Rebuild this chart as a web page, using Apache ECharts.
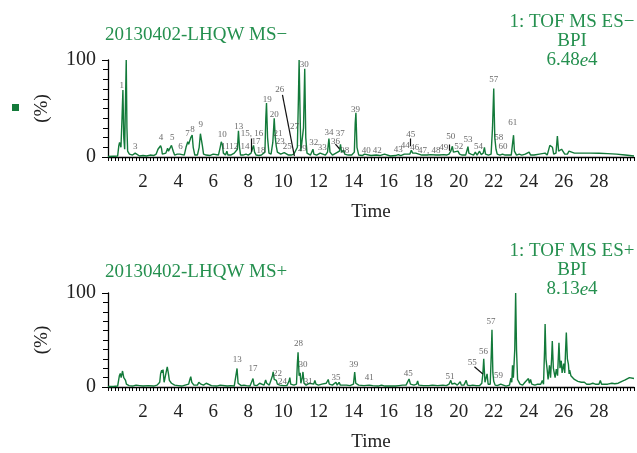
<!DOCTYPE html>
<html>
<head>
<meta charset="utf-8">
<script src="https://cdn.jsdelivr.net/npm/echarts/dist/echarts.min.js"></script>
<style>html,body{margin:0;padding:0;background:#fff}#chart{width:637px;height:453px}</style>
</head>
<body>
<div id="chart"></div>
<script>
// MS- base peak chromatogram, [time (min), relative intensity %]
var msNeg = [[0,0.5],[0.3,0.8],[0.55,1],[0.62,12],[0.66,15],[0.7,17],[0.74,10],[0.8,40],[0.85,69],[0.9,20],[0.95,8],[1.0,60],[1.04,100],[1.08,30],[1.12,6],[1.17,8],[1.22,3],[1.3,2],[1.4,2],[1.5,3],[1.55,4],[1.6,2],[1.8,1],[2.0,1.5],[2.2,1],[2.4,2],[2.6,1.5],[2.75,3],[2.85,8],[2.9,9],[2.95,7],[3.0,11.6],[3.05,9],[3.1,3],[3.3,4],[3.4,9],[3.45,6],[3.55,8],[3.62,12],[3.66,14],[3.72,6],[3.8,2],[3.95,3],[4.1,3],[4.2,2],[4.35,2],[4.45,10],[4.55,15.7],[4.6,13],[4.65,14],[4.72,20],[4.8,22.6],[4.86,10],[4.95,2],[5.1,2],[5.2,10],[5.27,24],[5.32,26],[5.38,12],[5.45,3],[5.6,2],[5.8,1.5],[6.0,3],[6.1,1.5],[6.3,2],[6.4,10],[6.46,15.7],[6.52,13],[6.58,4],[6.7,2],[6.78,6],[6.84,2],[7.0,2],[7.1,3],[7.2,4],[7.28,2],[7.38,8],[7.44,27],[7.5,10],[7.56,2],[7.7,2],[7.87,3],[8.0,2],[8.16,4],[8.22,2],[8.3,12],[8.36,5],[8.45,2],[8.6,1.5],[8.75,2],[8.85,1],[8.95,5],[9.0,40],[9.04,55.7],[9.1,20],[9.18,4],[9.3,3],[9.4,15],[9.48,40],[9.54,20],[9.6,11],[9.66,5],[9.77,5],[9.85,3],[9.95,4],[10.05,4.5],[10.15,3],[10.3,2],[10.45,2],[10.6,3],[10.7,2],[10.8,10],[10.86,60],[10.9,100],[10.96,40],[11.0,6],[11.05,6],[11.1,4],[11.15,30],[11.22,91],[11.28,20],[11.35,4],[11.45,3],[11.55,2],[11.65,4],[11.69,8],[11.74,3],[11.9,2],[12.0,3],[12.1,4],[12.18,5],[12.25,3],[12.4,2],[12.52,5],[12.6,19],[12.66,5],[12.8,2],[12.9,3],[13.0,4],[13.08,3],[13.2,6],[13.26,13],[13.32,5],[13.45,7],[13.5,3],[13.7,2],[13.9,2],[14.05,5],[14.1,35],[14.14,45.5],[14.2,10],[14.3,2],[14.5,1.5],[14.63,3],[14.7,2],[15.0,1.5],[15.3,2],[15.5,1.5],[15.77,3],[15.85,1.5],[16.1,1],[16.4,1.5],[16.56,2.5],[16.7,1.5],[16.9,3],[17.0,5],[17.1,3],[17.22,3],[17.3,7],[17.38,4],[17.55,4],[17.65,2],[17.9,2],[18.0,3],[18.2,2],[18.4,2.5],[18.7,2],[18.9,2],[19.15,2.5],[19.3,2],[19.45,3],[19.55,6],[19.64,11],[19.7,5],[19.8,3],[19.96,6],[20.05,3],[20.2,2],[20.3,4],[20.4,2],[20.48,4],[20.53,10.6],[20.58,4],[20.7,3],[20.85,2],[20.95,5],[21.05,2],[21.19,6],[21.28,2.5],[21.4,4],[21.47,10],[21.53,3],[21.7,2],[21.85,3],[21.93,30],[22.0,70.5],[22.06,20],[22.13,8],[22.2,3],[22.35,2],[22.5,3],[22.65,2],[22.8,2],[23.0,2],[23.08,15],[23.13,22.5],[23.18,6],[23.3,2],[23.45,3],[23.6,2],[23.8,3],[24.02,5],[24.1,2],[24.3,2],[24.6,3],[24.7,2],[24.93,4],[25.05,2],[25.15,4],[25.2,12],[25.25,13],[25.35,10],[25.42,3],[25.55,4],[25.63,21.5],[25.7,6],[25.8,4],[25.87,8],[25.95,7],[26.05,3],[26.2,3],[26.29,6],[26.38,4],[26.6,4],[27.0,4],[27.5,4],[28.0,3.8],[28.5,3.5],[29.0,3],[29.5,2],[30.0,1]];

// MS+ base peak chromatogram
var msPos = [[0,0.5],[0.3,0.5],[0.55,1],[0.65,12],[0.7,14.5],[0.75,10],[0.83,17],[0.9,10],[0.95,12],[1.0,7],[1.05,3],[1.1,5],[1.2,1.5],[1.4,1],[1.6,2],[1.7,2.5],[1.8,1.5],[2.0,1],[2.3,1.5],[2.6,1],[2.8,2],[2.95,5],[3.0,14],[3.06,18],[3.1,15],[3.14,18.5],[3.2,5],[3.3,3],[3.34,18],[3.38,21.5],[3.44,15],[3.5,7],[3.55,9],[3.62,4],[3.7,5],[3.8,2],[4.0,1.5],[4.2,1],[4.4,2],[4.6,3],[4.67,8],[4.72,11],[4.78,5],[4.9,2],[5.1,2],[5.18,5],[5.23,7],[5.3,3],[5.45,2],[5.6,4],[5.7,2],[5.9,1.5],[6.2,1],[6.4,2],[6.5,1],[6.8,1],[7.0,1.5],[7.2,1],[7.3,2],[7.36,19.7],[7.42,4],[7.5,2],[7.6,1.5],[7.75,2],[7.9,1.5],[8.1,1],[8.2,2],[8.27,9],[8.33,2],[8.5,1.5],[8.65,4],[8.7,2],[8.9,2],[8.99,7.5],[9.05,4],[9.2,2],[9.3,4],[9.38,12],[9.42,16],[9.48,8],[9.6,7],[9.66,3],[9.8,2],[9.9,3],[10.0,1.5],[10.2,1.5],[10.32,6],[10.37,10],[10.42,3],[10.6,2],[10.75,3],[10.8,25],[10.84,37],[10.9,12],[10.96,15],[11.0,4],[11.08,10],[11.12,16],[11.18,4],[11.3,2],[11.5,4],[11.58,2],[11.73,3],[11.8,7],[11.86,3],[12.0,2],[12.2,3],[12.3,2],[12.45,4],[12.56,8],[12.62,3],[12.8,2],[13.0,5],[13.07,2],[13.18,5],[13.25,2],[13.4,2],[13.5,4],[13.6,2],[13.8,1.5],[14.0,3],[14.07,16],[14.13,4],[14.3,2],[14.6,1.5],[14.9,2],[15.1,1.5],[15.4,1],[15.6,2],[15.8,1],[16.1,1],[16.4,1],[16.6,1.5],[16.8,2],[16.9,4],[17.0,2],[17.17,8.5],[17.25,3],[17.45,2],[17.6,3],[17.66,6.5],[17.72,2],[18.0,1.5],[18.3,1.5],[18.5,2],[18.8,1.5],[19.1,2],[19.3,1.5],[19.45,3],[19.55,7],[19.62,3],[19.78,4],[19.86,5],[19.92,2],[20.09,5.5],[20.15,2],[20.3,2],[20.43,7],[20.5,2],[20.65,1.5],[20.8,2],[21.0,1.5],[21.2,1.5],[21.32,4],[21.38,14],[21.43,30],[21.5,5],[21.56,7],[21.62,14],[21.68,3],[21.8,3],[21.86,35],[21.9,61],[21.95,15],[22.0,6],[22.08,2],[22.2,1.5],[22.4,3],[22.5,1.5],[22.7,1],[22.9,2],[22.98,9.5],[23.03,5],[23.07,23],[23.12,10],[23.2,40],[23.25,100],[23.3,40],[23.36,8],[23.4,10],[23.5,3],[23.65,2],[23.78,5],[23.85,3],[23.98,9],[24.03,4],[24.1,8],[24.17,3],[24.35,2],[24.5,3],[24.6,5],[24.68,3],[24.77,7],[24.84,3],[24.9,40],[24.93,67],[24.98,30],[25.05,18],[25.1,8],[25.18,23],[25.24,10],[25.3,30],[25.34,49],[25.4,20],[25.45,18],[25.5,10],[25.57,19],[25.64,12],[25.68,30],[25.72,47],[25.78,20],[25.85,28],[25.9,15],[25.99,25],[26.05,15],[26.1,40],[26.14,58],[26.2,30],[26.26,24],[26.3,14],[26.33,18],[26.4,12],[26.5,14],[26.6,8],[26.7,10],[26.8,6],[26.88,8],[27.0,5],[27.17,5],[27.3,3],[27.5,3],[27.65,4],[27.8,3],[28.0,3],[28.08,7],[28.15,3],[28.27,3],[28.5,3],[28.74,4],[28.9,3.5],[29.1,4],[29.31,6],[29.4,5],[29.5,7.5],[29.6,6],[29.74,10],[29.85,8],[30.0,9]];

// peak numbers: [time, intensity, label]
var negLabels = [[0.79,74,'1'],[1.04,103,'2'],[1.55,10.6,'3'],[3.02,20,'4'],[3.66,20,'5'],[4.13,10.6,'6'],[4.53,24,'7'],[4.82,28,'8'],[5.29,33,'9'],[6.52,23,'10'],[6.7,10.6,'11'],[7.17,10.6,'12'],[7.46,31,'13'],[7.82,10.6,'14'],[8.21,24,'15, 16'],[8.44,15.7,'17'],[8.72,6.5,'18'],[9.08,59,'19'],[9.48,44,'20'],[9.69,24,'21'],[9.82,15.7,'23'],[10.23,10.6,'25'],[9.8,69,'26'],[10.63,31,'27'],[10.94,106,'28'],[11.08,9,'29'],[11.2,95,'30'],[11.73,15,'32'],[12.22,10,'33'],[12.6,25,'34'],[12.97,15.7,'36'],[13.24,24,'37'],[13.5,6.5,'38'],[14.12,49,'39'],[14.73,7,'40'],[15.35,6.5,'42'],[16.56,8,'43'],[16.96,12,'44'],[17.26,23.5,'45'],[17.5,10,'46'],[18.32,6.5,'47, 48'],[19.15,10,'49'],[19.55,21,'50'],[20.0,10.6,'52'],[20.53,18,'53'],[21.13,10.6,'54'],[22.0,80,'57'],[22.28,20,'58'],[22.53,10.6,'60'],[23.08,35.5,'61']];
var posLabels = [[7.37,28.8,'13'],[8.27,19,'17'],[9.67,14.5,'22'],[9.95,5.2,'24'],[10.86,46,'28'],[11.12,23.5,'30'],[11.42,5.5,'31'],[13.0,9.7,'35'],[14.01,23.5,'39'],[14.9,9.7,'41'],[17.13,14,'45'],[19.5,10.7,'51'],[20.77,26,'55'],[21.42,37.7,'56'],[21.85,69,'57'],[22.27,11.7,'59']];

// leader lines from labels to peaks: [t1, v1, t2, v2]
var negLeaders = [[9.95,64,10.63,1],[8.16,19,8.16,5.5],[12.97,13.3,13.2,8.5],[17.22,19,17.22,11],[19.49,13,19.49,6.5]];
var posLeaders = [[20.9,21.5,21.38,13.8]];

var xTicks = [2,4,6,8,10,12,14,16,18,20,22,24,26,28];

var serif = 'Liberation Serif';
var lineColor = '#137a3a';
var titleColor = '#25904f';

function toLabelData(arr) {
    return arr.map(function (d) { return { value: [d[0], d[1]], name: d[2] }; });
}
function toLeaderData(arr) {
    return arr.map(function (d) { return { coords: [[d[0], d[1]], [d[2], d[3]]] }; });
}

function xAxisFor(gridIndex) {
    return {
        type: 'value', gridIndex: gridIndex, min: 0, max: 30, interval: 2,
        name: 'Time', nameLocation: 'middle', nameGap: 46,
        nameTextStyle: { fontFamily: serif, fontSize: 19, color: '#222' },
        axisLine: { lineStyle: { color: '#000', width: 1.3 } },
        axisTick: { show: true, length: 4, lineStyle: { color: '#000' } },
        minorTick: { show: true, splitNumber: 10, length: 4, lineStyle: { color: '#000' } },
        splitLine: { show: false },
        axisLabel: {
            fontFamily: serif, fontSize: 19, color: '#222', margin: 16,
            formatter: function (v) { return xTicks.indexOf(v) >= 0 ? String(v) : ''; }
        }
    };
}
function yAxisFor(gridIndex) {
    return {
        type: 'value', gridIndex: gridIndex, min: 0, max: 100, interval: 100,
        name: '(%)', nameLocation: 'middle', nameRotate: 90, nameGap: 56,
        nameTextStyle: { fontFamily: serif, fontSize: 19, color: '#222' },
        axisLine: { show: true, lineStyle: { color: '#000', width: 1.3 } },
        axisTick: { show: true, length: 6, lineStyle: { color: '#000' } },
        minorTick: { show: true, splitNumber: 10, length: 5, lineStyle: { color: '#000' } },
        splitLine: { show: false },
        axisLabel: { fontFamily: serif, fontSize: 20, color: '#222', margin: 12 }
    };
}
function peakLine(name, idx, data) {
    return {
        name: name, type: 'line', xAxisIndex: idx, yAxisIndex: idx, data: data,
        showSymbol: false, animation: false,
        lineStyle: { color: lineColor, width: 1.4 }, itemStyle: { color: lineColor }
    };
}
function labelSeries(idx, data) {
    return {
        type: 'scatter', xAxisIndex: idx, yAxisIndex: idx, data: toLabelData(data),
        symbolSize: 1, itemStyle: { color: 'rgba(0,0,0,0)' }, z: 5, animation: false,
        label: { show: true, position: 'inside', formatter: '{b}', fontFamily: serif, fontSize: 9, color: '#444' }
    };
}
function leaderSeries(idx, data) {
    return {
        type: 'lines', coordinateSystem: 'cartesian2d', xAxisIndex: idx, yAxisIndex: idx,
        data: toLeaderData(data), z: 4, animation: false,
        lineStyle: { color: '#111', width: 1.2, opacity: 1 }
    };
}

function titleBlock(left, top, text, align) {
    return {
        left: left, top: top, text: text, textAlign: align,
        textStyle: {
            fontFamily: serif, fontSize: 19, fontWeight: 'normal', color: titleColor, lineHeight: 19,
            rich: {
                n: { fontFamily: serif, fontSize: 19, color: titleColor, lineHeight: 19 },
                i: { fontFamily: serif, fontSize: 19, color: titleColor, fontStyle: 'italic', lineHeight: 19 }
            }
        }
    };
}

var chart = echarts.init(document.getElementById('chart'));
var option = {
    backgroundColor: '#fff',
    animation: false,
    title: [
        titleBlock(100, 21, '20130402-LHQW MS\u2212', 'left'),
        titleBlock(567, 8, '1: TOF MS ES\u2212\nBPI\n{n|6.48}{i|e}{n|4}', 'center'),
        titleBlock(100, 258, '20130402-LHQW MS+', 'left'),
        titleBlock(567, 237, '1: TOF MS ES+\nBPI\n{n|8.13}{i|e}{n|4}', 'center')
    ],
    legend: {
        left: 7, top: 99, data: ['MS-'], icon: 'rect', itemWidth: 7, itemHeight: 7,
        formatter: function () { return ''; }, selectedMode: false
    },
    grid: [
        { left: 108, top: 60, right: 1, height: 97 },
        { left: 108, top: 293, right: 1, height: 96 }
    ],
    xAxis: [xAxisFor(0), xAxisFor(1)],
    yAxis: [yAxisFor(0), yAxisFor(1)],
    series: [
        peakLine('MS-', 0, msNeg),
        labelSeries(0, negLabels),
        leaderSeries(0, negLeaders),
        peakLine('MS+', 1, msPos),
        labelSeries(1, posLabels),
        leaderSeries(1, posLeaders)
    ]
};
chart.setOption(option);
window.addEventListener('resize', function () { chart.resize(); });
</script>
</body>
</html>
